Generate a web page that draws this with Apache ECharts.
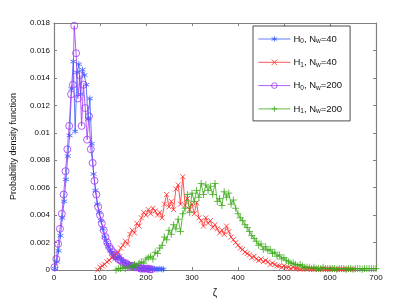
<!DOCTYPE html>
<html>
<head>
<meta charset="utf-8">
<script src="https://cdn.jsdelivr.net/npm/echarts@6/dist/echarts.min.js"></script>
<style>html,body{margin:0;padding:0;background:#fff}#c{width:415px;height:304px}</style>
</head>
<body>
<div id="c"></div>
<script>
// ---- data ----
const xTicks = [0, 100, 200, 300, 400, 500, 600, 700];
const yTicks = [0, 0.002, 0.004, 0.006, 0.008, 0.01, 0.012, 0.014, 0.016, 0.018];
const seriesNames = ['H0, Nw=40', 'H1, Nw=40', 'H0, Nw=200', 'H1, Nw=200'];

const h0n40X = [2,6,10,14,18,22,26,30,34,38,42,46,50,54,58,62,66,70,74,78,82,86,90,94,98,102,106,110,114,118,122,126,130,134,138,142,146,150,154,158,162,166,170,174,178,182,186,190,194,198,202,206,210,214,218,222,226,230,234,238];
const h0n40Y = [0.0001,0.0006,0.0014,0.0025,0.0038,0.0050,0.0066,0.0083,0.0098,0.0132,
  0.0152,0.0101,0.0144,0.0150,0.0128,0.0146,0.0142,0.0135,0.0110,0.0125,
  0.0092,0.0070,0.0058,0.0048,0.0042,0.0036,0.0030,0.0024,0.0020,0.0017,
  0.0014,0.0012,0.0010,0.0008,0.0009,0.0010,0.0008,0.0006,0.0005,0.0004,
  0.0004,0.0003,0.0003,0.0002,0.0002,0.0002,0.0001,0.0001,0.0002,0.0001,
  0.0001,0.0001,0.0001,0.00005,0.0001,0.00005,0.00005,0.0001,0.00005,0.00005];

const h1n40X = [95,100,105,110,115,120,125,130,135,140,145,150,155,160,165,170,175,180,185,190,195,200,205,210,215,220,225,230,235,240,245,250,255,260,265,270,275,280,285,290,295,300,305,310,315,320,325,330,335,340,345,350,355,360,365,370,375,380,385,390,395,400,405,410,415,420,425,430,435,440,445,450,455,460,465,470,475,480,485,490,495,500,505,510,515,520,525,530,535,540,545,550,555,560,565,570,575,580,585,590,595,600,605,610,615,620,625,630,635,640,645,650];
const h1n40Y = [0.0000,0.0002,0.0003,0.0004,0.0006,0.0007,0.0009,0.0010,0.0012,0.0013,
  0.0016,0.0018,0.0021,0.0019,0.0026,0.0029,0.0027,0.0034,0.0032,0.0038,
  0.0042,0.0040,0.0044,0.0041,0.0045,0.0043,0.0040,0.0042,0.0038,0.0048,
  0.0055,0.0046,0.0050,0.0044,0.0059,0.0062,0.0048,0.0068,0.0047,0.0052,
  0.0044,0.0048,0.0041,0.0049,0.0038,0.0036,0.0032,0.0038,0.0034,0.0036,
  0.0031,0.0033,0.0030,0.0027,0.0029,0.0026,0.0032,0.0028,0.0024,0.0022,
  0.0020,0.0018,0.0016,0.0015,0.0013,0.0012,0.0011,0.0009,0.0010,0.0008,
  0.0007,0.0008,0.0006,0.0007,0.0006,0.0004,0.0005,0.0004,0.0003,0.0003,
  0.0002,0.0003,0.0002,0.0002,0.0001,0.0002,
  0.0001,0.0001,0.00005,0.0001,0.0001,0.00005,0.0001,0.00005,0.00005,0.0001,
  0.00005,0.00005,0.0001,0.00005,0.00005,0.00005,0.0001,0.00005,0.00005,0.00005,
  0.00005,0.00005,0.00005,0.00005,0.00005,0.00005];

const h0n200X = [1,5,9,13,17,21,25,29,33,37,41,44,48,52,56,60,64,68,72,76,80,84,88,92,96,100,104,108,112,116,120,124,128,132,136,140,144,148,152,156,160,164,168,172,176,180,184,188,192,196,200,204,208,212];
const h0n200Y = [0.0002,0.0008,0.0019,0.0030,0.0041,0.0055,0.0072,0.0088,0.0105,0.0128,
  0.0135,0.0178,0.0158,0.0125,0.0142,0.0105,0.0135,0.0118,0.0095,0.0112,
  0.0088,0.0078,0.0065,0.0055,0.0046,0.0040,0.0034,0.0029,0.0024,0.0020,
  0.0017,0.0015,0.0013,0.0011,0.0010,0.0008,0.0007,0.0006,0.0005,0.0005,
  0.0004,0.0003,0.0003,0.0003,0.0002,0.0002,0.0002,0.0001,0.0001,0.0001,
  0.0001,0.0001,0.00005,0.00005];

const h1n200X = [135,140,145,150,155,160,165,170,175,180,185,190,195,200,205,210,215,220,225,230,235,240,245,250,255,260,265,270,275,280,285,290,295,300,305,310,315,320,325,330,335,340,345,350,355,360,365,370,375,380,385,390,395,400,405,410,415,420,425,430,435,440,445,450,455,460,465,470,475,480,485,490,495,500,505,510,515,520,525,530,535,540,545,550,555,560,565,570,575,580,585,590,595,600,605,610,615,620,625,630,635,640,645,650,655,660,665,670,675,680,685,690,695,700];
const h1n200Y = [0.0000,0.0001,0.0001,0.0002,0.0001,0.0002,0.0003,0.0002,0.0004,0.0003,
  0.0005,0.0006,0.0005,0.0008,0.0009,0.0010,0.0008,0.0013,0.0012,0.0016,
  0.0018,0.0024,0.0022,0.0029,0.0026,0.0033,0.0030,0.0037,0.0028,0.0041,
  0.0045,0.0055,0.0042,0.0056,0.0050,0.0058,0.0053,0.0063,0.0055,0.0062,
  0.0058,0.0061,0.0055,0.0063,0.0050,0.0052,0.0047,0.0057,0.0053,0.0056,
  0.0048,0.0051,0.0045,0.0041,0.0038,0.0036,0.0033,0.0031,0.0028,0.0025,
  0.0023,0.0021,0.0018,0.0019,0.0015,0.0017,0.0014,0.0015,0.0012,0.0013,
  0.0010,0.0011,0.0008,0.0009,0.0007,0.0006,0.0005,0.0005,0.0004,0.0003,
  0.0004,0.0003,0.0002,0.0002,
  0.0002,0.0001,0.0002,0.0001,0.0001,0.0001,0.0002,0.0001,0.0001,0.0001,
  0.0001,0.0001,0.00005,0.0001,0.0001,0.0001,0.00005,0.0001,0.0001,0.00005,
  0.0001,0.0001,0.0001,0.00005,0.0001,0.0001,0.0001,0.0001,0.0001,0.0001];

// ---- styling ----
const FONT = 'Liberation Sans, Arial, Helvetica, sans-serif';
const colors = ['#3a5cff', '#ff2a2a', '#a034f5', '#3aaa18'];
const symbols = [
  'path://M5 0 L5 10 M0.7 2.5 L9.3 7.5 M0.7 7.5 L9.3 2.5',
  'path://M0 0 L10 10 M0 10 L10 0',
  'circle',
  'path://M5 0 L5 10 M0 5 L10 5'
];
const sizes = [6, 5, 7, 7];
const xs = [h0n40X, h1n40X, h0n200X, h1n200X];
const ys = [h0n40Y, h1n40Y, h0n200Y, h1n200Y];

function pairs(x, y) { return x.map((v, i) => [v, y[i]]); }

const series = seriesNames.map((name, i) => ({
  name: name,
  type: 'line',
  data: pairs(xs[i], ys[i]),
  symbol: symbols[i],
  symbolSize: sizes[i],
  showAllSymbol: true,
  animation: false,
  lineStyle: { color: colors[i], width: 0.8 },
  itemStyle: { color: 'rgba(255,255,255,0)', borderColor: colors[i], borderWidth: 0.8 },
  emphasis: { disabled: true }
}));

const legendRich = {
  n: { fontFamily: FONT, fontSize: 9.5, color: '#111', lineHeight: 12 },
  s: { fontFamily: FONT, fontSize: 6.5, color: '#111', lineHeight: 12, verticalAlign: 'bottom', padding: [5, 0, 0, 0] }
};
const legendText = {
  'H0, Nw=40': '{n|H}{s|0}{n|, N}{s|w}{n|=40}',
  'H1, Nw=40': '{n|H}{s|1}{n|, N}{s|w}{n|=40}',
  'H0, Nw=200': '{n|H}{s|0}{n|, N}{s|w}{n|=200}',
  'H1, Nw=200': '{n|H}{s|1}{n|, N}{s|w}{n|=200}'
};

const axisCommon = {
  type: 'value',
  axisLine: { show: true, onZero: false, lineStyle: { color: '#808080', width: 1.2 } },
  axisTick: { show: true, inside: true, length: 3, lineStyle: { color: '#808080' } },
  splitLine: { show: false }
};

const option = {
  animation: false,
  backgroundColor: '#fff',
  grid: { left: 54, right: 39, top: 23, bottom: 34, containLabel: false },
  xAxis: [
    Object.assign({}, axisCommon, {
      min: 0, max: 700, interval: 100, position: 'bottom',
      name: 'ζ', nameLocation: 'middle', nameGap: 18,
      nameTextStyle: { fontFamily: FONT, fontSize: 10, color: '#111' },
      axisLabel: { fontFamily: FONT, fontSize: 8, color: '#111', margin: 4,
        formatter: v => xTicks.includes(v) ? String(v) : '' }
    }),
    Object.assign({}, axisCommon, {
      min: 0, max: 700, interval: 100, position: 'top', axisLabel: { show: false }
    })
  ],
  yAxis: [
    Object.assign({}, axisCommon, {
      min: 0, max: 0.018, interval: 0.002, position: 'left',
      name: 'Probability density function', nameLocation: 'middle', nameGap: 36,
      nameTextStyle: { fontFamily: FONT, fontSize: 9, color: '#111' },
      axisLabel: { fontFamily: FONT, fontSize: 8, color: '#111', margin: 4,
        formatter: v => { const t = yTicks.find(k => Math.abs(k - v) < 1e-9); return t === undefined ? '' : String(t); } }
    }),
    Object.assign({}, axisCommon, {
      min: 0, max: 0.018, interval: 0.002, position: 'right', axisLabel: { show: false }
    })
  ],
  legend: {
    orient: 'vertical',
    left: 253, top: 26,
    padding: [7, 8, 6, 5],
    itemWidth: 32, itemHeight: 7, itemGap: 11.3,
    backgroundColor: '#fff',
    borderColor: '#222', borderWidth: 0.8,
    selectedMode: false,
    data: seriesNames,
    lineStyle: { width: 0.8 },
    itemStyle: { borderWidth: 0.8, color: 'rgba(255,255,255,0)' },
    formatter: name => legendText[name],
    textStyle: { rich: legendRich, padding: [0, 0, 0, -2] }
  },
  series: series
};

const chart = echarts.init(document.getElementById('c'), null, { renderer: 'canvas' });
chart.setOption(option);
</script>
</body>
</html>
